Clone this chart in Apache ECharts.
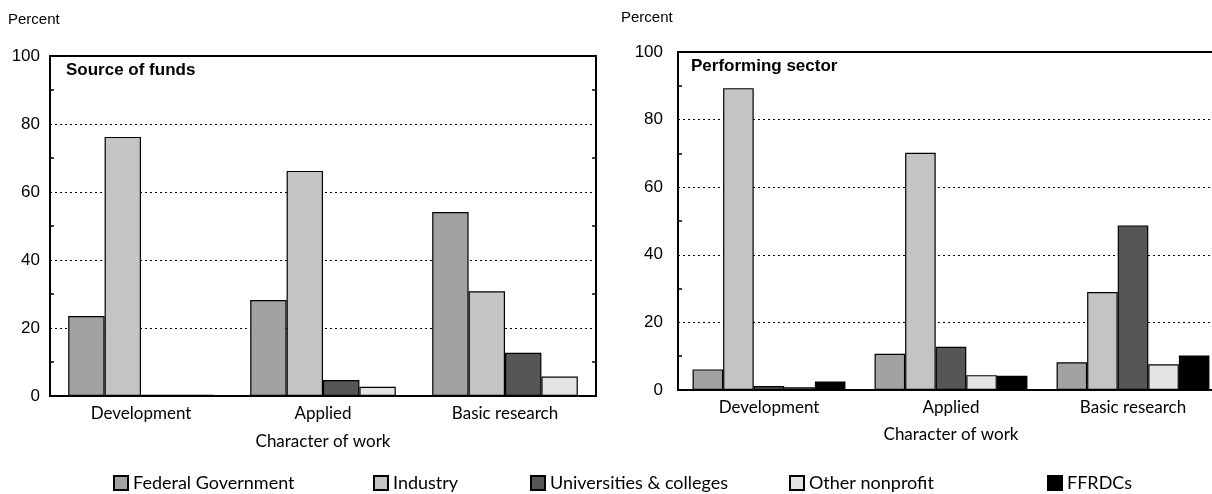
<!DOCTYPE html>
<html>
<head>
<meta charset="utf-8">
<title>Character of work</title>
<script src="https://cdn.jsdelivr.net/npm/echarts@6/dist/echarts.min.js"></script>
<style>
  html, body { margin: 0; padding: 0; background: #fff; }
  #chart { width: 1212px; height: 494px; }
</style>
</head>
<body>
<div id="chart"></div>
<script>
// categories and series (percent)
var categories = ['Development', 'Applied', 'Basic research']
var sectors = ['Federal Government', 'Industry', 'Universities & colleges', 'Other nonprofit', 'FFRDCs']

// source of funds (left panel)
var fundsFederal = [23.5, 28.2, 54.1]
var fundsIndustry = [76.2, 66.2, 30.8]
var fundsUniv = [0.4, 4.7, 12.7]
var fundsOther = [0.4, 2.7, 5.7]

// performing sector (right panel)
var perfFederal = [6.1, 10.7, 8.2]
var perfIndustry = [89.3, 70.2, 29.0]
var perfUniv = [1.2, 12.8, 48.7]
var perfOther = [0.8, 4.4, 7.6]
var perfFFRDC = [2.5, 4.2, 10.2]

var yMin = 0
var yMax = 100
var yStep = 20

// gray fills, one per sector
var fills = ['#a2a2a2', '#c4c4c4', '#565656', '#e4e4e4', '#000000']

var labelFont = 'Lato, "Noto Sans", sans-serif'
var numFont = '"Liberation Sans", Arial, sans-serif'

var myChart = echarts.init(document.getElementById('chart'))

function bar(name, data, idx, axisIdx, catGap) {
  return {
    name: name,
    type: 'bar',
    xAxisIndex: axisIdx,
    yAxisIndex: axisIdx * 2,
    data: data,
    barGap: '0%',
    barCategoryGap: catGap,
    animation: false,
    itemStyle: {
      color: fills[idx],
      borderColor: '#000',
      borderWidth: 1.2
    }
  }
}

function valueAxis(gridIdx, pos, showLabels, margin) {
  return {
    type: 'value',
    gridIndex: gridIdx,
    position: pos,
    min: yMin,
    max: yMax,
    interval: yStep,
    axisLine: { show: true, lineStyle: { color: '#000', width: 2 } },
    axisTick: { show: false, inside: true },
    minorTick: { show: true, splitNumber: 2, length: 4, lineStyle: { color: '#000', width: 1.5 } },
    axisLabel: {
      show: showLabels,
      color: '#000',
      fontSize: 17,
      fontFamily: numFont,
      margin: margin
    },
    splitLine: {
      show: showLabels,
      lineStyle: { color: '#000', type: [2, 3], width: 1.2 }
    }
  }
}

function catAxis(gridIdx, gap) {
  return {
    type: 'category',
    gridIndex: gridIdx,
    data: categories,
    axisLine: { show: true, lineStyle: { color: '#000', width: 2 } },
    axisTick: { show: false },
    axisLabel: { color: '#000', fontSize: 17, fontFamily: labelFont, margin: 9 },
    name: 'Character of work',
    nameLocation: 'middle',
    nameGap: gap,
    nameTextStyle: { color: '#000', fontSize: 17, fontFamily: labelFont }
  }
}

var legendLeft = [113, 373, 530, 789, 1047]
var legends = sectors.map(function (s, i) {
  return {
    data: [s],
    left: legendLeft[i],
    top: 474,
    padding: 0,
    itemWidth: 14,
    itemHeight: 14,
    icon: 'rect',
    selectedMode: false,
    textStyle: { color: '#000', fontSize: 18, fontFamily: labelFont }
  }
})

var option = {
  backgroundColor: '#fff',
  legend: legends,
  grid: [
    { left: 50, top: 56, width: 546, height: 340, outerBoundsMode: 'none', show: true, borderColor: '#000', borderWidth: 2, backgroundColor: 'transparent' },
    // right panel runs past the picture edge, as in the scan
    { left: 678, top: 52, width: 546, height: 338, outerBoundsMode: 'none', show: true, borderColor: '#000', borderWidth: 2, backgroundColor: 'transparent' }
  ],
  xAxis: [catAxis(0, 37), catAxis(1, 36)],
  yAxis: [
    valueAxis(0, 'left', true, 10),
    valueAxis(0, 'right', false, 8),
    valueAxis(1, 'left', true, 15),
    valueAxis(1, 'right', false, 8)
  ],
  graphic: [
    { type: 'text', left: 8, top: 12, style: { text: 'Percent', fill: '#000', font: '15px ' + numFont } },
    { type: 'text', left: 621, top: 10, style: { text: 'Percent', fill: '#000', font: '15px ' + numFont } },
    { type: 'text', left: 66, top: 62, style: { text: 'Source of funds', fill: '#000', font: 'bold 17px ' + numFont } },
    { type: 'text', left: 691, top: 58, style: { text: 'Performing sector', fill: '#000', font: 'bold 17px ' + numFont } }
  ],
  series: [
    bar(sectors[0], fundsFederal, 0, 0, '20%'),
    bar(sectors[1], fundsIndustry, 1, 0, '20%'),
    bar(sectors[2], fundsUniv, 2, 0, '20%'),
    bar(sectors[3], fundsOther, 3, 0, '20%'),
    bar(sectors[0], perfFederal, 0, 1, '16%'),
    bar(sectors[1], perfIndustry, 1, 1, '16%'),
    bar(sectors[2], perfUniv, 2, 1, '16%'),
    bar(sectors[3], perfOther, 3, 1, '16%'),
    bar(sectors[4], perfFFRDC, 4, 1, '16%')
  ]
}

myChart.setOption(option, true)
</script>
</body>
</html>
